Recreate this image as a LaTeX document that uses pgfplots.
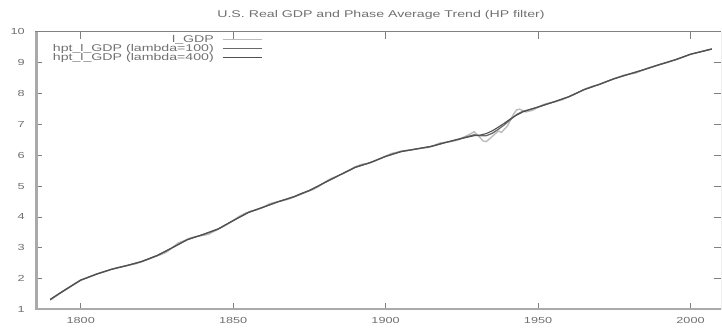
\documentclass[border=0pt]{standalone}
\usepackage{pgfplots}
\usepackage{pgfplotstable}
\pgfplotsset{compat=1.18}
\usepackage{fontspec}
\setmainfont{Liberation Sans}[FakeStretch=1.45]
\definecolor{txtgray}{HTML}{707070}
\definecolor{bargray}{HTML}{AAAAAA}
\definecolor{bordgray}{HTML}{808080}
\definecolor{lgdp}{HTML}{BBBBBB}
\definecolor{hpa}{HTML}{6A6A6A}
\definecolor{hpb}{HTML}{505050}

\pgfplotstableread{
year v
1790 1.30
1792 1.45
1794 1.58
1796 1.70
1798 1.84
1800 1.96
1802 2.03
1804 2.10
1806 2.18
1808 2.23
1810 2.30
1812 2.36
1814 2.40
1816 2.44
1818 2.48
1820 2.55
1822 2.62
1824 2.70
1826 2.77
1828 2.85
1830 3.00
1832 3.16
1834 3.23
1836 3.32
1838 3.37
1840 3.40
1842 3.44
1844 3.55
1846 3.65
1848 3.76
1850 3.88
1852 4.02
1854 4.12
1856 4.19
1858 4.24
1860 4.32
1862 4.43
1864 4.48
1866 4.52
1868 4.57
1870 4.65
1872 4.75
1874 4.82
1876 4.88
1878 4.98
1880 5.12
1882 5.24
1884 5.32
1886 5.40
1888 5.50
1890 5.62
1892 5.70
1894 5.73
1896 5.80
1898 5.88
1900 5.97
1902 6.06
1904 6.10
1906 6.15
1908 6.16
1910 6.20
1912 6.23
1914 6.25
1916 6.32
1918 6.40
1920 6.42
1922 6.45
1924 6.50
1926 6.60
1928 6.70
1929 6.76
1930 6.66
1931 6.56
1932 6.46
1933 6.44
1934 6.52
1936 6.70
1937 6.78
1938 6.74
1940 6.95
1941 7.15
1942 7.34
1943 7.47
1944 7.49
1945 7.44
1946 7.40
1948 7.45
1950 7.55
1952 7.65
1954 7.70
1956 7.74
1958 7.80
1960 7.89
1962 7.97
1964 8.07
1966 8.17
1968 8.24
1970 8.29
1972 8.37
1974 8.44
1976 8.51
1978 8.59
1980 8.63
1982 8.66
1984 8.74
1986 8.82
1988 8.88
1990 8.94
1992 8.99
1994 9.06
1996 9.12
1998 9.19
2000 9.27
2002 9.32
2004 9.37
2006 9.42
2007 9.44
}\lgdp

\pgfplotstableread{
year v
1790 1.32
1795 1.64
1800 1.95
1805 2.14
1810 2.30
1815 2.42
1820 2.55
1825 2.74
1830 3.00
1835 3.27
1840 3.42
1845 3.60
1850 3.88
1855 4.15
1860 4.32
1865 4.50
1870 4.65
1875 4.85
1880 5.11
1885 5.36
1890 5.61
1895 5.76
1900 5.96
1905 6.12
1910 6.20
1915 6.28
1920 6.42
1925 6.55
1929 6.66
1931 6.63
1933 6.63
1935 6.71
1937 6.84
1939 6.99
1941 7.16
1943 7.32
1945 7.42
1947 7.47
1950 7.56
1955 7.72
1960 7.89
1965 8.12
1970 8.29
1975 8.48
1980 8.63
1985 8.78
1990 8.94
1995 9.09
2000 9.27
2005 9.39
2007 9.44
}\hpA

\pgfplotstableread{
year v
1790 1.33
1795 1.65
1800 1.95
1805 2.14
1810 2.30
1815 2.42
1820 2.56
1825 2.75
1830 3.00
1835 3.26
1840 3.43
1845 3.61
1850 3.88
1855 4.14
1860 4.32
1865 4.50
1870 4.66
1875 4.86
1880 5.11
1885 5.36
1890 5.60
1895 5.76
1900 5.96
1905 6.11
1910 6.20
1915 6.29
1920 6.42
1925 6.54
1929 6.63
1931 6.65
1933 6.70
1935 6.79
1937 6.91
1939 7.04
1941 7.18
1943 7.30
1945 7.40
1947 7.47
1950 7.56
1955 7.72
1960 7.89
1965 8.12
1970 8.29
1975 8.48
1980 8.63
1985 8.78
1990 8.94
1995 9.09
2000 9.27
2005 9.39
2007 9.44
}\hpB

\begin{document}
\begin{tikzpicture}[x=1bp,y=1bp]
\useasboundingbox (0,0) rectangle (722,331);
\node[text=txtgray, font=\fontsize{9.8}{10}\selectfont] at (381,316) {U.S. Real GDP and Phase Average Trend (HP filter)};
\begin{axis}[
  at={(35bp,21.5bp)}, anchor=south west,
  width=686bp, height=277.8bp, scale only axis,
  xmin=1785, xmax=2010, ymin=1, ymax=10,
  xtick={1800,1850,1900,1950,2000},
  ytick={1,2,3,4,5,6,7,8,9,10},
  minor tick num=0,
  axis line style={draw=none},
  tick align=inside,
  major tick length=7bp,
  tick style={draw=bordgray, line width=0.8bp},
  /pgf/number format/assume math mode=true,
  /pgf/number format/1000 sep={},
  ticklabel style={text=txtgray, font=\fontsize{8.8}{9}\selectfont},
  xticklabel style={inner sep=0pt, anchor=north, yshift=-8bp},
  yticklabel style={inner sep=0pt, anchor=east, xshift=-10bp},
  legend plot pos=right,
  legend cell align=right,
  legend image code/.code={\path[draw=none,fill=none] (0bp,-2bp) rectangle (48bp,2bp); \draw[#1] (9bp,0bp) -- (48bp,0bp);},
  legend style={draw=none, fill=none, inner sep=0pt, at={(0.332,0.986)}, anchor=north east,
    font=\fontsize{9.8}{9.8}\selectfont, text=txtgray, row sep=1bp,
    nodes={inner sep=0pt, text height=6.5bp, text depth=1.5bp}},
]
\draw[bargray, line width=5bp] (rel axis cs:0,0) -- (rel axis cs:0,1);
\draw[bargray, line width=3bp] (rel axis cs:0,0) -- (rel axis cs:1,0);
\draw[bordgray, line width=1.3bp] (rel axis cs:0,1) -- (rel axis cs:1,1);
\draw[bordgray, line width=1bp] (rel axis cs:1,0) -- (rel axis cs:1,1);
\addplot[lgdp, line width=1.4bp] table[x=year, y=v] {\lgdp};
\addlegendentry{l\_GDP}
\addplot[hpa, line width=1.3bp] table[x=year, y=v] {\hpA};
\addlegendentry{hpt\_l\_GDP (lambda=100)}
\addplot[hpb, line width=1.1bp] table[x=year, y=v] {\hpB};
\addlegendentry{hpt\_l\_GDP (lambda=400)}
\end{axis}
\end{tikzpicture}
\end{document}
